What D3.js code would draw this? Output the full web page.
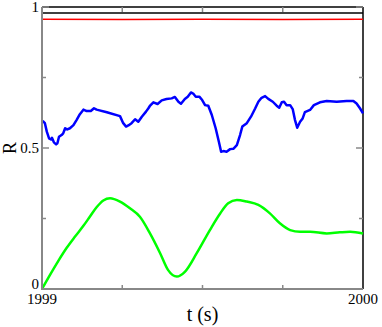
<!DOCTYPE html>
<html>
<head>
<meta charset="utf-8">
<script src="https://cdn.jsdelivr.net/npm/d3@7"></script>
<style>
body { margin: 0; background: #fff; }
svg { display: block; }
</style>
</head>
<body>
<div id="chart"></div>
<script>
// data: [t, R]
var blueT = [1999.002,1999.009,1999.015,1999.022,1999.028,1999.031,1999.037,1999.044,1999.048,1999.053,1999.061,1999.066,1999.072,1999.079,1999.087,1999.098,1999.108,1999.118,1999.129,1999.139,1999.152,1999.162,1999.170,1999.202,1999.243,1999.253,1999.262,1999.269,1999.279,1999.290,1999.300,1999.311,1999.324,1999.331,1999.336,1999.347,1999.360,1999.373,1999.388,1999.404,1999.414,1999.425,1999.433,1999.445,1999.454,1999.464,1999.471,1999.479,1999.490,1999.499,1999.508,1999.518,1999.529,1999.541,1999.551,1999.558,1999.565,1999.575,1999.586,1999.596,1999.607,1999.617,1999.624,1999.638,1999.651,1999.664,1999.674,1999.684,1999.695,1999.705,1999.719,1999.731,1999.739,1999.747,1999.754,1999.762,1999.773,1999.781,1999.788,1999.795,1999.804,1999.812,1999.819,1999.835,1999.847,1999.866,1999.887,1999.918,1999.949,1999.970,1999.980,1999.991,2000.0];
var blueR = [0.596,0.588,0.558,0.534,0.530,0.536,0.520,0.513,0.517,0.540,0.546,0.552,0.570,0.566,0.570,0.581,0.600,0.620,0.636,0.631,0.631,0.641,0.636,0.627,0.613,0.588,0.576,0.580,0.588,0.602,0.593,0.611,0.629,0.640,0.649,0.662,0.656,0.669,0.674,0.676,0.681,0.664,0.657,0.674,0.682,0.697,0.693,0.682,0.682,0.670,0.652,0.650,0.617,0.570,0.522,0.487,0.489,0.487,0.496,0.497,0.510,0.546,0.576,0.588,0.611,0.640,0.664,0.678,0.684,0.674,0.664,0.650,0.643,0.662,0.664,0.652,0.652,0.638,0.600,0.572,0.593,0.605,0.627,0.635,0.652,0.662,0.667,0.664,0.667,0.667,0.658,0.640,0.623];

var greenT = [1999.000,1999.025,1999.050,1999.077,1999.103,1999.129,1999.150,1999.170,1999.191,1999.212,1999.243,1999.274,1999.305,1999.336,1999.368,1999.393,1999.420,1999.445,1999.482,1999.523,1999.555,1999.580,1999.607,1999.638,1999.674,1999.710,1999.741,1999.773,1999.804,1999.835,1999.887,1999.928,1999.960,2000.0];
var greenR = [0.000,0.050,0.098,0.146,0.186,0.224,0.258,0.290,0.314,0.322,0.310,0.286,0.256,0.198,0.127,0.067,0.044,0.061,0.127,0.209,0.268,0.304,0.316,0.310,0.298,0.268,0.233,0.209,0.203,0.203,0.197,0.201,0.203,0.197];

var redT = [1999.0,1999.25,1999.5,1999.75,2000.0];
var redR = [0.957,0.956,0.957,0.956,0.957];

var blackT = [1999.0,2000.0];
var blackR = [0.979,0.979];

var majorY = [0, 0.5, 1];
var minorY = [0.25, 0.75];
var majorX = [1999, 2000];
var minorX = [1999.25, 1999.5, 1999.75];

(function() {

var width = 382, height = 327;
var pLeft = 42, pRight = 363, pTop = 7, pBottom = 289;
var serif = '"Liberation Serif", "Times New Roman", Times, "DejaVu Serif", serif';

var x = d3.scaleLinear().domain([1999, 2000]).range([pLeft, pRight]);
var y = d3.scaleLinear().domain([0, 1]).range([pBottom, pTop]);

var svg = d3.select('#chart').append('svg')
	.attr('width', width)
	.attr('height', height)
	.attr('font-family', serif);

function zip(ts, rs) {
	return ts.map(function(t, i) { return [t, rs[i]]; });
}

var line = d3.line()
	.x(function(d) { return x(d[0]); })
	.y(function(d) { return y(d[1]); });

var smooth = d3.line()
	.x(function(d) { return x(d[0]); })
	.y(function(d) { return y(d[1]); })
	.curve(d3.curveMonotoneX);

// frame: top/right black, left/bottom gray
svg.append('line').attr('x1', pLeft).attr('x2', pRight).attr('y1', pTop).attr('y2', pTop)
	.attr('stroke', '#000').attr('stroke-width', 1.5);
svg.append('line').attr('x1', pRight).attr('x2', pRight).attr('y1', pTop).attr('y2', pBottom)
	.attr('stroke', '#000').attr('stroke-width', 1.5);

// ticks (all pointing inward)
var ticks = svg.append('g').attr('stroke', '#888').attr('stroke-width', 1.5);
majorY.concat(minorY).forEach(function(v) {
	var len = majorY.indexOf(v) > -1 ? 7 : 4;
	ticks.append('line').attr('x1', pLeft).attr('x2', pLeft + len).attr('y1', y(v)).attr('y2', y(v));
	ticks.append('line').attr('x1', pRight).attr('x2', pRight - len).attr('y1', y(v)).attr('y2', y(v));
});
minorX.forEach(function(v) {
	ticks.append('line').attr('x1', x(v)).attr('x2', x(v)).attr('y1', pBottom).attr('y2', pBottom - 4);
	ticks.append('line').attr('x1', x(v)).attr('x2', x(v)).attr('y1', pTop).attr('y2', pTop + 5);
});

// series
svg.append('path').datum(zip(blackT, blackR)).attr('d', line)
	.attr('fill', 'none').attr('stroke', '#000').attr('stroke-width', 1.5);
svg.append('path').datum(zip(redT, redR)).attr('d', line)
	.attr('fill', 'none').attr('stroke', '#ff0000').attr('stroke-width', 1.5);
svg.append('path').datum(zip(blueT, blueR)).attr('d', line)
	.attr('fill', 'none').attr('stroke', '#0000ff').attr('stroke-width', 2.5)
	.attr('stroke-linejoin', 'round');
svg.append('path').datum(zip(greenT, greenR)).attr('d', smooth)
	.attr('fill', 'none').attr('stroke', '#00ff00').attr('stroke-width', 2.5);

svg.append('line').attr('x1', pLeft).attr('x2', pLeft).attr('y1', pTop).attr('y2', pBottom + 1)
	.attr('stroke', '#888').attr('stroke-width', 2);
svg.append('line').attr('x1', pLeft - 1).attr('x2', pRight).attr('y1', pBottom).attr('y2', pBottom)
	.attr('stroke', '#888').attr('stroke-width', 2);

// tick labels
var yLabels = svg.append('g').attr('font-size', 15).attr('text-anchor', 'end');
majorY.forEach(function(v) {
	yLabels.append('text')
		.attr('x', pLeft - 3)
		.attr('y', y(v) + (v === 0 ? 0 : 5))
		.text(v === 0.5 ? '0.5' : String(v));
});
var xLabels = svg.append('g').attr('font-size', 15).attr('text-anchor', 'middle');
majorX.forEach(function(v) {
	xLabels.append('text')
		.attr('x', x(v))
		.attr('y', pBottom + 15)
		.text(String(v));
});

// axis titles
svg.append('text')
	.attr('x', (pLeft + pRight) / 2)
	.attr('y', 321)
	.attr('text-anchor', 'middle')
	.attr('font-size', 20)
	.text('t (s)');
svg.append('text')
	.attr('transform', 'translate(16,' + y(0.5) + ') rotate(-90)')
	.attr('text-anchor', 'middle')
	.attr('font-size', 18)
	.text('R');

})();
</script>
</body>
</html>
